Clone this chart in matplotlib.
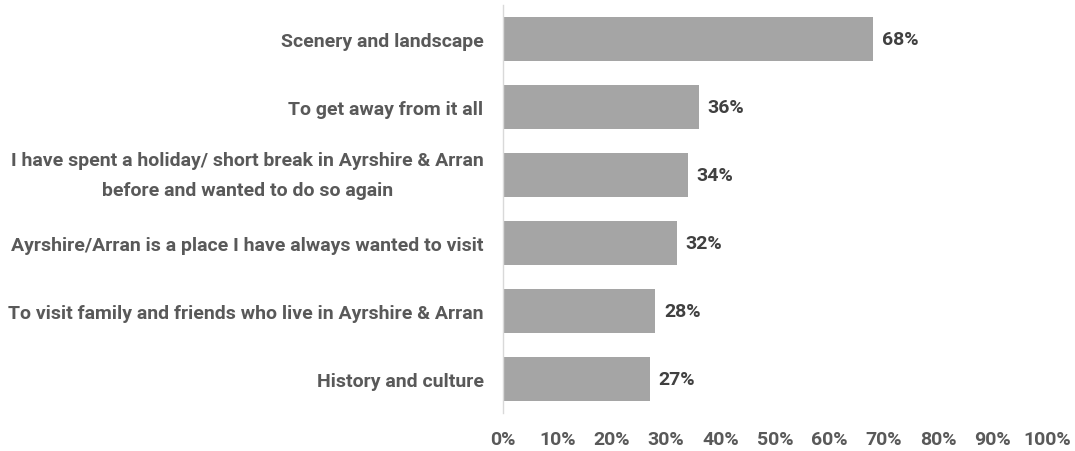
import matplotlib
matplotlib.use("Agg")
import matplotlib.pyplot as plt
from matplotlib.ticker import PercentFormatter

plt.rcParams['font.family'] = ['Roboto', 'DejaVu Sans']

# Motivations for visiting, share of respondents (%)
reasons = [
    "Scenery and landscape",
    "To get away from it all",
    "I have spent a holiday/ short break in Ayrshire & Arran\nbefore and wanted to do so again",
    "Ayrshire/Arran is a place I have always wanted to visit",
    "To visit family and friends who live in Ayrshire & Arran",
    "History and culture",
]
shares = [68, 36, 34, 32, 28, 27]
x_ticks = [0, 10, 20, 30, 40, 50, 60, 70, 80, 90, 100]

bar_color = "#a5a5a5"
text_color = "#595959"
value_color = "#404040"
fs = 14

fig = plt.figure(figsize=(10.75, 4.52), dpi=100)
ax = fig.add_axes([0.4679, 0.084, 0.506, 0.9027])

y = list(range(len(reasons)))
ax.barh(y, shares, height=0.65, color=bar_color)
ax.set_ylim(len(reasons) - 0.5, -0.5)
ax.set_xlim(0, 100)

for yi, v in zip(y, shares):
    ax.text(v + 1.6, yi, f"{v}%", va="center", ha="left",
            fontsize=fs, fontweight="bold", color=value_color)

ax.set_yticks(y)
ax.set_yticklabels(reasons, fontsize=fs, fontweight="bold", color=text_color,
                   linespacing=1.85, multialignment="center")
# two-line label: centre the whole block on the bar
for lbl in ax.get_yticklabels():
    if "\n" in lbl.get_text():
        lbl.set_verticalalignment("center")
ax.set_xticks(x_ticks)
ax.xaxis.set_major_formatter(PercentFormatter(decimals=0))
for lbl in ax.get_xticklabels():
    lbl.set_fontsize(fs)
    lbl.set_fontweight("bold")
    lbl.set_color(text_color)

ax.tick_params(axis="both", length=0)
ax.tick_params(axis="y", pad=14)
ax.tick_params(axis="x", pad=12)

for side in ["top", "right", "bottom"]:
    ax.spines[side].set_visible(False)
ax.spines["left"].set_color("#d9d9d9")
ax.spines["left"].set_linewidth(1)

fig.savefig("out.png", dpi=100)
